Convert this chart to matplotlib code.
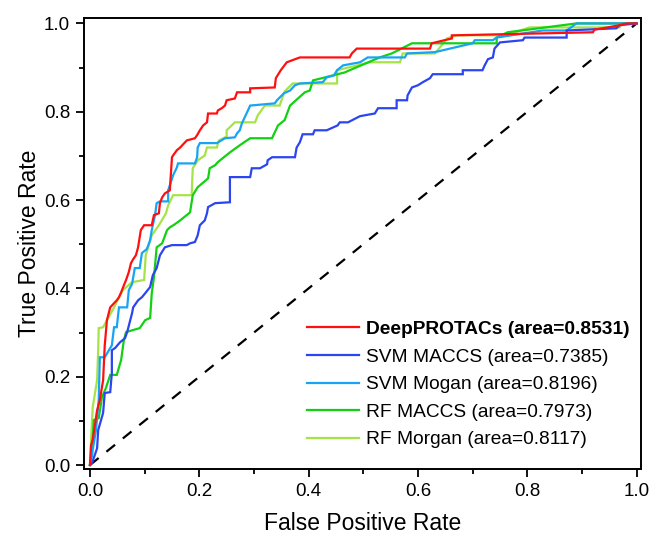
import matplotlib

matplotlib.use("Agg")
import matplotlib.pyplot as plt
from matplotlib.ticker import MultipleLocator

plt.rcParams["font.family"] = ["Liberation Sans", "DejaVu Sans"]

# ROC curves (fpr, tpr)
DEEP_FPR = [0, 0.002, 0.005, 0.009, 0.013, 0.018, 0.024, 0.027, 0.031, 0.037, 0.049, 0.053,
            0.057, 0.062, 0.066, 0.071, 0.075, 0.079, 0.084, 0.088, 0.093, 0.099, 0.113, 0.117,
            0.126, 0.128, 0.132, 0.137, 0.146, 0.150, 0.152, 0.159, 0.165, 0.177, 0.192, 0.196,
            0.201, 0.207, 0.214, 0.216, 0.232, 0.234, 0.241, 0.247, 0.250, 0.265, 0.269, 0.293,
            0.293, 0.338, 0.340, 0.349, 0.360, 0.384, 0.475, 0.479, 0.488, 0.622, 0.625, 0.662,
            0.662, 0.920, 0.923, 0.965, 0.982, 1.0]
DEEP_TPR = [0, 0.045, 0.057, 0.090, 0.124, 0.147, 0.192, 0.271, 0.328, 0.357, 0.373, 0.380,
            0.391, 0.407, 0.419, 0.437, 0.457, 0.466, 0.475, 0.493, 0.532, 0.543, 0.543, 0.566,
            0.570, 0.593, 0.606, 0.615, 0.622, 0.697, 0.701, 0.713, 0.719, 0.735, 0.740, 0.747,
            0.758, 0.769, 0.776, 0.796, 0.796, 0.803, 0.808, 0.814, 0.826, 0.830, 0.844, 0.844,
            0.853, 0.855, 0.876, 0.894, 0.912, 0.923, 0.923, 0.932, 0.943, 0.943, 0.955, 0.966,
            0.973, 0.980, 0.986, 0.995, 1.0, 1.0]

SVM_MACCS_FPR = [0, 0.004, 0.013, 0.015, 0.024, 0.027, 0.037, 0.040, 0.040, 0.046, 0.055, 0.064,
                 0.068, 0.077, 0.079, 0.088, 0.095, 0.101, 0.110, 0.115, 0.122, 0.128, 0.137, 0.150,
                 0.177, 0.183, 0.192, 0.197, 0.201, 0.210, 0.214, 0.216, 0.229, 0.256, 0.256, 0.293,
                 0.296, 0.311, 0.324, 0.325, 0.333, 0.375, 0.378, 0.384, 0.389, 0.408, 0.411, 0.433,
                 0.453, 0.457, 0.472, 0.494, 0.521, 0.527, 0.561, 0.561, 0.580, 0.581, 0.589, 0.600,
                 0.609, 0.622, 0.627, 0.682, 0.682, 0.718, 0.722, 0.728, 0.737, 0.740, 0.750, 0.792,
                 0.795, 0.872, 0.872, 0.963, 0.969, 1.0]
SVM_MACCS_TPR = [0, 0.005, 0.038, 0.079, 0.118, 0.163, 0.165, 0.208, 0.260, 0.265, 0.278, 0.287,
                 0.301, 0.344, 0.357, 0.373, 0.380, 0.389, 0.403, 0.430, 0.446, 0.475, 0.493, 0.498,
                 0.498, 0.502, 0.505, 0.520, 0.543, 0.554, 0.570, 0.584, 0.593, 0.595, 0.652, 0.652,
                 0.672, 0.672, 0.681, 0.690, 0.697, 0.697, 0.719, 0.731, 0.749, 0.749, 0.758, 0.758,
                 0.769, 0.776, 0.776, 0.790, 0.796, 0.808, 0.808, 0.826, 0.826, 0.837, 0.855, 0.860,
                 0.867, 0.876, 0.885, 0.885, 0.894, 0.894, 0.905, 0.919, 0.923, 0.943, 0.957, 0.962,
                 0.968, 0.968, 0.984, 0.989, 0.996, 1.0]

SVM_MOGAN_FPR = [0, 0.004, 0.005, 0.011, 0.016, 0.018, 0.027, 0.040, 0.044, 0.049, 0.053, 0.068,
                 0.071, 0.077, 0.082, 0.091, 0.095, 0.104, 0.110, 0.113, 0.119, 0.122, 0.128, 0.143,
                 0.143, 0.152, 0.159, 0.161, 0.192, 0.196, 0.197, 0.201, 0.232, 0.247, 0.265, 0.269,
                 0.274, 0.278, 0.289, 0.293, 0.338, 0.342, 0.355, 0.366, 0.375, 0.384, 0.426, 0.433,
                 0.446, 0.452, 0.463, 0.494, 0.508, 0.576, 0.580, 0.631, 0.700, 0.704, 0.737, 0.744,
                 0.828, 0.872, 0.890, 1.0]
SVM_MOGAN_TPR = [0, 0.023, 0.034, 0.079, 0.147, 0.244, 0.244, 0.271, 0.312, 0.312, 0.357, 0.357,
                 0.396, 0.410, 0.446, 0.446, 0.480, 0.489, 0.509, 0.532, 0.566, 0.593, 0.597, 0.597,
                 0.622, 0.656, 0.674, 0.683, 0.683, 0.697, 0.719, 0.729, 0.729, 0.740, 0.742, 0.751,
                 0.758, 0.774, 0.803, 0.814, 0.819, 0.826, 0.842, 0.848, 0.860, 0.864, 0.867, 0.878,
                 0.882, 0.894, 0.905, 0.912, 0.923, 0.923, 0.932, 0.935, 0.955, 0.962, 0.962, 0.968,
                 0.984, 0.984, 1.0, 1.0]

RF_MACCS_FPR = [0, 0.004, 0.007, 0.016, 0.022, 0.029, 0.037, 0.049, 0.057, 0.062, 0.066, 0.091,
                0.101, 0.110, 0.113, 0.117, 0.122, 0.132, 0.141, 0.146, 0.155, 0.165, 0.183, 0.188,
                0.197, 0.216, 0.219, 0.229, 0.234, 0.256, 0.274, 0.293, 0.333, 0.344, 0.356, 0.366,
                0.393, 0.402, 0.408, 0.466, 0.475, 0.530, 0.552, 0.589, 0.744, 0.744, 0.764, 0.890,
                1.0]
RF_MACCS_TPR = [0, 0.038, 0.102, 0.106, 0.154, 0.174, 0.204, 0.204, 0.238, 0.283, 0.301, 0.310,
                0.328, 0.333, 0.389, 0.425, 0.493, 0.502, 0.532, 0.538, 0.545, 0.554, 0.572, 0.611,
                0.629, 0.649, 0.672, 0.679, 0.686, 0.708, 0.724, 0.740, 0.740, 0.769, 0.781, 0.814,
                0.844, 0.848, 0.871, 0.889, 0.894, 0.923, 0.932, 0.955, 0.955, 0.968, 0.980, 1.0,
                1.0]

RF_MOGAN_FPR = [0, 0.0, 0.002, 0.005, 0.013, 0.015, 0.016, 0.024, 0.044, 0.060, 0.077, 0.099,
                0.102, 0.113, 0.126, 0.139, 0.143, 0.152, 0.186, 0.188, 0.197, 0.210, 0.214, 0.232,
                0.236, 0.250, 0.250, 0.265, 0.302, 0.307, 0.320, 0.347, 0.356, 0.371, 0.452, 0.452,
                0.512, 0.567, 0.572, 0.631, 0.643, 0.653, 0.671, 0.762, 0.804, 0.969, 0.974, 1.0]
RF_MOGAN_TPR = [0, 0.005, 0.057, 0.131, 0.192, 0.260, 0.310, 0.312, 0.357, 0.396, 0.414, 0.419,
                0.475, 0.520, 0.543, 0.570, 0.588, 0.611, 0.611, 0.672, 0.690, 0.701, 0.719, 0.719,
                0.735, 0.744, 0.758, 0.776, 0.776, 0.792, 0.814, 0.814, 0.846, 0.864, 0.864, 0.894,
                0.912, 0.912, 0.932, 0.932, 0.950, 0.966, 0.973, 0.973, 0.991, 0.991, 1.0, 1.0]

LABELS = [
  "DeepPROTACs (area=0.8531)",
  "SVM MACCS (area=0.7385)",
  "SVM Mogan (area=0.8196)",
  "RF MACCS (area=0.7973)",
  "RF Morgan (area=0.8117)",
]
COLORS = ["#ff1010", "#2b45f0", "#17a4f5", "#12d012", "#a6e346"]
CURVES = [
  (DEEP_FPR, DEEP_TPR),
  (SVM_MACCS_FPR, SVM_MACCS_TPR),
  (SVM_MOGAN_FPR, SVM_MOGAN_TPR),
  (RF_MACCS_FPR, RF_MACCS_TPR),
  (RF_MOGAN_FPR, RF_MOGAN_TPR),
]


def main() -> int:
  fig = plt.figure(figsize=(6.53, 5.38), dpi=100)
  ax = fig.add_axes([0.1286, 0.1283, 0.853, 0.838])

  # DeepPROTACs drawn on top of the others
  lines = []
  for (fpr, tpr), color, label in zip(CURVES, COLORS, LABELS):
    (ln,) = ax.plot(fpr, tpr, color=color, linewidth=1.6, label=label,
                    solid_joinstyle="miter")
    lines.append(ln)
  for i, ln in enumerate(lines):
    ln.set_zorder(3 + len(lines) - i)

  ax.plot([0, 1], [0, 1], color="black", linewidth=1.6, linestyle=(0, (5, 4.5)), zorder=2)

  ax.set_xlim(-0.011, 1.008)
  ax.set_ylim(-0.009, 1.012)
  ax.xaxis.set_major_locator(MultipleLocator(0.2))
  ax.xaxis.set_minor_locator(MultipleLocator(0.1))
  ax.yaxis.set_major_locator(MultipleLocator(0.2))
  ax.yaxis.set_minor_locator(MultipleLocator(0.1))
  ax.tick_params(which="major", direction="out", length=6, width=1.3, labelsize=13.5, pad=4)
  ax.tick_params(which="minor", direction="out", length=3.5, width=1.3)
  for sp in ax.spines.values():
    sp.set_linewidth(1.4)

  ax.set_xlabel("False Positive Rate", fontsize=16.5, labelpad=9)
  ax.set_ylabel("True Positive Rate", fontsize=16.5, labelpad=2)

  leg = ax.legend(loc="lower right", bbox_to_anchor=(1.0, 0.02), frameon=False,
                  fontsize=13.8, handlelength=2.7, handletextpad=0.36, labelspacing=0.53,
                  borderaxespad=0.2)
  leg.get_texts()[0].set_fontweight("bold")

  fig.savefig("out.png", dpi=100)
  plt.close(fig)
  return 0


if __name__ == "__main__":
  raise SystemExit(main())
